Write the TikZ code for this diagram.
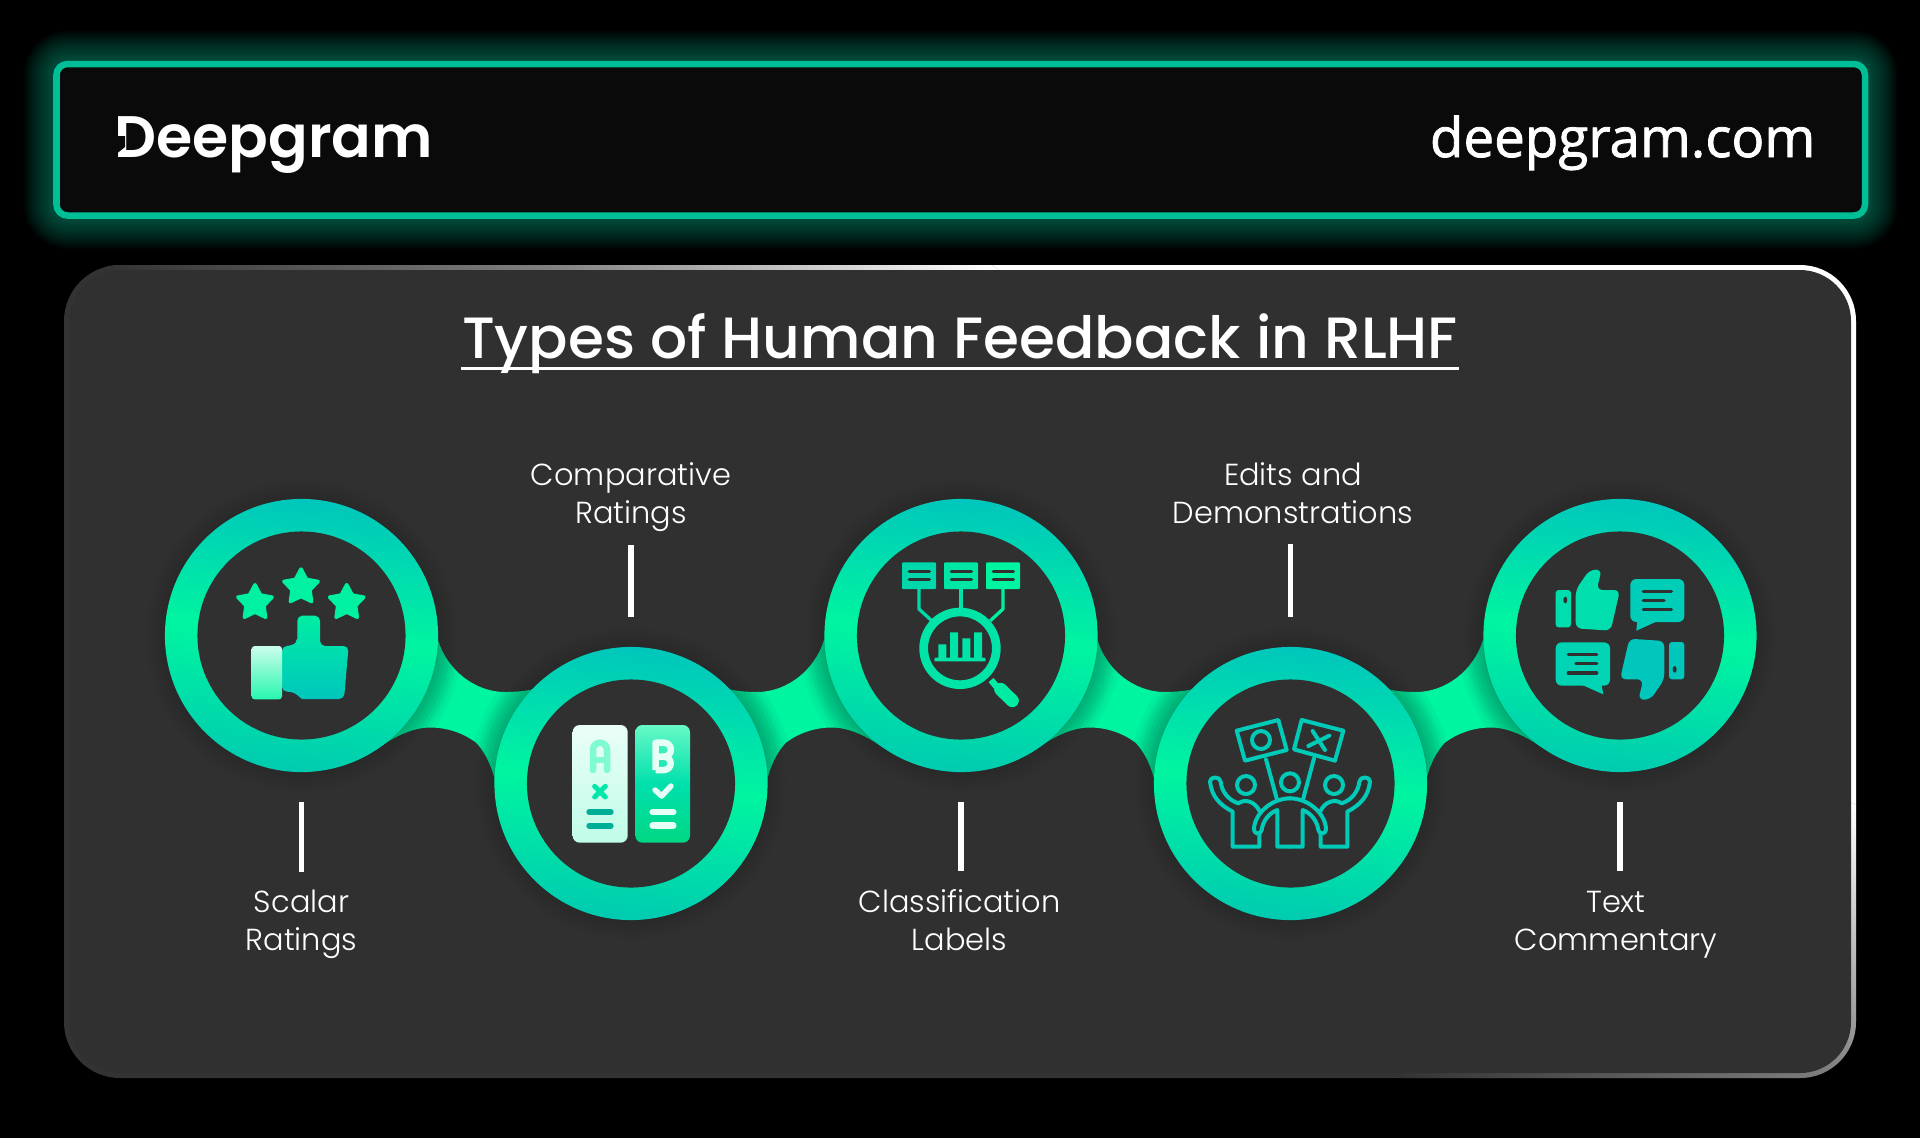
\documentclass[tikz,border=0pt]{standalone}
\usepackage{fontspec}
\setmainfont{Poppins}
\newfontfamily\lightfont{Poppins Light}
\newfontfamily\mediumfont{Poppins Medium}
\newfontfamily\boldfont{Poppins SemiBold}
\newfontfamily\urlfont[FakeBold=1.5]{Open Sans}
\usetikzlibrary{shapes.geometric, positioning}
\definecolor{panel}{HTML}{303030}
\definecolor{rimdark}{HTML}{333333}
\definecolor{rimgrey}{HTML}{808080}
\definecolor{boxfill}{HTML}{0A0A0A}
\definecolor{glow}{HTML}{00BE96}
\definecolor{mint}{HTML}{00F5A0}
\definecolor{teal}{HTML}{00C6BC}
\definecolor{tealb}{HTML}{00CBB0}
\tikzstyle{ring} = [circle, minimum size=2.73cm, inner sep=0pt, top color=teal, bottom color=tealb, middle color=mint, shading angle=-6]
\tikzstyle{hole} = [circle, minimum size=2.08cm, inner sep=0pt, fill=panel]
\tikzstyle{caption} = [text=white, align=center, inner sep=0pt, font=\lightfont\fontsize{8.65}{10.8}\selectfont]
\tikzstyle{ringtick} = [draw=white, line width=0.055cm]
\tikzstyle{ratingstar} = [star, star points=5, star point ratio=1.9, minimum size=0.36cm, inner sep=0pt, fill=mint!92!teal, draw=mint!92!teal, line width=0.035cm, line join=round]
\tikzstyle{darkbar} = [draw=panel, line width=0.035cm, line cap=round]
\tikzstyle{outline} = [draw=teal!90!mint, line width=0.04cm, line cap=round, line join=round]
\newcommand{\bandpath}{(-164.5,-74) -- (-28,-69.5) .. controls (-19,-39.5) and (9,-17.5) .. (39,-17.5) .. controls (50,-17.5) and (60,-18.5) .. (68,-20.5) -- (165,74) -- (29,70.5) .. controls (24,52) and (18,42) .. (10.5,33.5) .. controls (-2,24) and (-18,18) .. (-36,18) .. controls (-52,18) and (-70,26) .. (-86,37.5) -- cycle}
\begin{document}
\begin{tikzpicture}[x=0.01cm, y=-0.01cm]

\useasboundingbox (0,0) rectangle (1920,1138);
\fill[black] (0,0) rectangle (1920,1138);

\foreach \g in {66,62,...,8}
  \draw[glow, opacity=0.035, rounded corners=0.11cm, line width=\g*0.01cm] (56.5,64) rectangle (1865,215.5);
\draw[glow, fill=boxfill, line width=0.065cm, rounded corners=0.11cm] (56.5,64) rectangle (1865,215.5);

\node at (114,157) (logo) [anchor=base west, inner sep=0pt, text=white, font=\boldfont\fontsize{16.65}{20}\selectfont] {Deepgram};
\fill[boxfill] (110,136) -- (125,136) -- (125,147) -- (110,159) -- cycle;
\node at (1816,157) (site) [anchor=base east, inner sep=0pt, text=white, font=\urlfont\fontsize{15.55}{20}\selectfont] {deepgram.com};

\begin{scope}
\clip[rounded corners=0.56cm] (64,265) rectangle (1856,1078);
\fill[rimdark] (0,200) rectangle (1920,1138);
\begin{scope}[transform canvas={shift={(960,671)}, rotate=-32}]
\fill[white] (-1300,-361) rectangle (1300,-1300);
\shade[bottom color=rimdark, top color=white, middle color=rimgrey] (-1300,111) rectangle (1300,-361);
\end{scope}
\end{scope}
\fill[panel, rounded corners=0.51cm] (69.5,270) rectangle (1851,1073);

\node at (960,358) (title) [anchor=base, inner sep=0pt, text=white, font=\mediumfont\fontsize{16.55}{20}\selectfont] {Types of Human Feedback in RLHF};
\draw[white, line width=0.03cm] (title.base west |- 0,368) -- (title.base east |- 0,368);

\foreach \mx/\fl in {466/1, 796/-1, 1125.5/1, 1455/-1} {
  \begin{scope}[shift={(\mx,709.5)}, xscale=\fl]
    \shade[left color=mint, right color=mint, middle color=mint] \bandpath;
    \clip \bandpath;
    \foreach \r in {138,142,...,162} {
      \fill[tealb!50!black, opacity=0.05] (-164.5,-74) circle (\r);
      \fill[tealb!50!black, opacity=0.05] (165,74) circle (\r);
    }
  \end{scope}
}

\foreach \cx/\cy in {301.5/635.5, 631/783.5, 961/635.5, 1290.5/783.5, 1620/635.5}
  \foreach \r in {138,141,...,156}
    \fill[black, opacity=0.02] (\cx,\cy) circle (\r);

\node at (301.5,635.5) (scalar) [ring] {};
\node at (631,783.5) (comparative) [ring] {};
\node at (961,635.5) (classification) [ring] {};
\node at (1290.5,783.5) (edits) [ring] {};
\node at (1620,635.5) (commentary) [ring] {};
\foreach \n in {scalar, comparative, classification, edits, commentary}
  \node at (\n) [hole] {};

\node at (255,602.7) (starA) [ratingstar] {};
\node at (301,587) (starB) [ratingstar] {};
\node at (346.7,602.7) (starC) [ratingstar] {};
\begin{scope}[shift={(220,550)}, scale=1/3]
\shade[top color=mint!85!teal, bottom color=teal, rounded corners=0.05cm] (186,288) -- (214,288) .. controls (225,280) and (232,265) .. (232,250) -- (232,197) -- (300,197) -- (300,288) -- (386,288) -- (372,447) -- (262,447) .. controls (240,447) and (232,425) .. (186,425) -- cycle;
\shade[top color=white!80!mint, bottom color=mint!85!white, rounded corners=0.03cm] (95,288) rectangle (186,448);
\end{scope}

\begin{scope}[shift={(560,710)}, scale=1/3]
\shade[top color=white!92!mint, bottom color=white!75!mint, rounded corners=0.07cm] (38,45) rectangle (203,398);
\shade[top color=white!40!mint, bottom color=teal!70!green, middle color=mint!55!teal, rounded corners=0.07cm] (226,45) rectangle (390,398);
\draw[mint!50!white, line width=0.065cm, line cap=round] (99,180) -- (99,119) arc (180:360:21) -- (141,180);
\draw[mint!50!white, line width=0.06cm] (99,150) -- (141,150);
\draw[mint!70!teal, line width=0.05cm, line cap=round] (104,229) -- (136,261);
\draw[mint!70!teal, line width=0.05cm, line cap=round] (136,229) -- (104,261);
\draw[tealb!85!black, line width=0.06cm, line cap=round] (88,306) -- (152,306);
\draw[tealb!85!black, line width=0.06cm, line cap=round] (88,347) -- (152,347);
\draw[white!90!mint, line width=0.065cm, line join=round] (287,180) -- (287,98) -- (312,98) arc (270:450:21) -- (287,140);
\draw[white!90!mint, line width=0.065cm, line join=round] (312,140) arc (270:450:20) -- (287,180);
\draw[white!90!mint, line width=0.055cm, line cap=round, line join=round] (285,240) -- (305,258) -- (333,228);
\draw[white!90!mint, line width=0.065cm, line cap=round] (278,306) -- (340,306);
\draw[white!90!mint, line width=0.065cm, line cap=round] (278,347) -- (340,347);
\end{scope}

\begin{scope}[shift={(810,490)}, scale=1/3]
\draw[tealb!70!mint, line width=0.033cm, line join=round] (327,297) -- (327,357) -- (365,392);
\draw[tealb!40!mint, line width=0.033cm] (453,297) -- (453,355);
\draw[mint!90!teal, line width=0.033cm, line join=round] (579,297) -- (579,357) -- (541,392);
\fill[tealb!70!mint, rounded corners=0.01cm] (276,217) rectangle (378,297);
\fill[tealb!35!mint, rounded corners=0.01cm] (402,217) rectangle (504,297);
\fill[mint, rounded corners=0.01cm] (528,217) rectangle (630,297);
\foreach \bx in {298, 424, 550} {
  \draw[darkbar] (\bx,245) -- ++(60,0);
  \draw[darkbar] (\bx,268) -- ++(60,0);
}
\draw[tealb!40!mint, line width=0.087cm] (450,475) circle (109);
\fill[tealb!40!mint] (385,463) rectangle (409,505) (420,427) rectangle (444,505) (457,445) rectangle (481,505) (492,427) rectangle (516,505);
\fill[tealb!40!mint, rounded corners=0.01cm] (373,503) rectangle (527,514);
\draw[mint!80!teal, line width=0.065cm] (543,570) -- (560,590);
\draw[mint!80!teal, line width=0.13cm, line cap=round] (572,598) -- (607,632);
\end{scope}

\begin{scope}[shift={(1170,690)}, scale=1/3]
\draw[outline] (200,122) -- (325,90) -- (350,180) -- (225,212) -- cycle;
\draw[outline] (273,150) circle (27);
\draw[outline] (288,208) -- (320,325);
\draw[outline] (395,90) -- (520,122) -- (495,212) -- (372,178) -- cycle;
\draw[outline] (428,123) -- (465,180);
\draw[outline] (415,168) -- (478,137);
\draw[outline] (432,205) -- (400,325);
\draw[outline] (360,277) circle (27);
\foreach \sx/\dx in {1/0, -1/720} {
  \begin{scope}[shift={(\dx,0)}, xscale=\sx]
    \draw[outline] (228,285) circle (27);
    \draw[outline] (268,432) -- (268,470) -- (188,470) -- (188,365) .. controls (150,345) and (125,320) .. (120,275) .. controls (120,258) and (150,258) .. (152,275) .. controls (155,305) and (175,330) .. (205,340) .. controls (225,325) and (255,335) .. (268,362);
    \draw[outline] (360,325) .. controls (305,325) and (255,370) .. (252,415) .. controls (252,435) and (272,435) .. (275,420) .. controls (278,395) and (295,370) .. (322,360) -- (322,470) -- (360,470);
  \end{scope}
}
\end{scope}

\begin{scope}[shift={(1520,540)}, scale=1/3]
\fill[teal!50!mint, rounded corners=0.03cm] (107,150) rectangle (153,262);
\fill[panel] (136,180) ellipse (6 and 10);
\fill[teal!50!mint, rounded corners=0.06cm] (167,150) -- (208,90) -- (245,88) -- (230,150) -- (300,150) -- (272,272) -- (167,265) -- cycle;
\fill[teal!85!mint, rounded corners=0.06cm] (331,117) rectangle (493,246);
\fill[teal!85!mint] (352,240) -- (349,272) -- (420,240) -- cycle;
\fill[teal!70!mint, rounded corners=0.06cm] (107,307) rectangle (270,437);
\fill[teal!70!mint] (180,432) -- (250,463) -- (244,432) -- cycle;
\foreach \x/\y/\u in {370/154/454, 370/181/432, 370/209/454, 145/344/230, 168/371/230, 145/399/230}
  \draw[darkbar] (\x,\y) -- (\u,\y);
\fill[teal, rounded corners=0.03cm] (447,306) rectangle (493,418);
\fill[panel] (464,388) ellipse (6 and 10);
\fill[teal, rounded corners=0.06cm] (433,418) -- (392,478) -- (355,480) -- (370,418) -- (300,418) -- (328,296) -- (433,303) -- cycle;
\end{scope}

\node at (631,523) (labelB) [caption, anchor=base] {Comparative\\Ratings};
\node at (1293,523) (labelD) [caption, anchor=base] {Edits and\\Demonstrations};
\node at (301.5,950) (labelA) [caption, anchor=base] {Scalar\\Ratings};
\node at (959.5,950) (labelC) [caption, anchor=base] {Classification\\Labels};
\node at (1616,950) (labelE) [caption, anchor=base] {Text\\Commentary};

\draw[ringtick, shorten <=0.29cm, shorten >=0.17cm] (scalar.south) -- (scalar.south |- labelA.north);
\draw[ringtick, shorten <=0.29cm, shorten >=0.13cm] (comparative.north) -- (comparative.north |- labelB.south);
\draw[ringtick, shorten <=0.29cm, shorten >=0.17cm] (classification.south) -- (classification.south |- labelC.north);
\draw[ringtick, shorten <=0.29cm, shorten >=0.2cm] (edits.north) -- (edits.north |- labelD.south);
\draw[ringtick, shorten <=0.29cm, shorten >=0.19cm] (commentary.south) -- (commentary.south |- labelE.north);

\end{tikzpicture}
\end{document}
